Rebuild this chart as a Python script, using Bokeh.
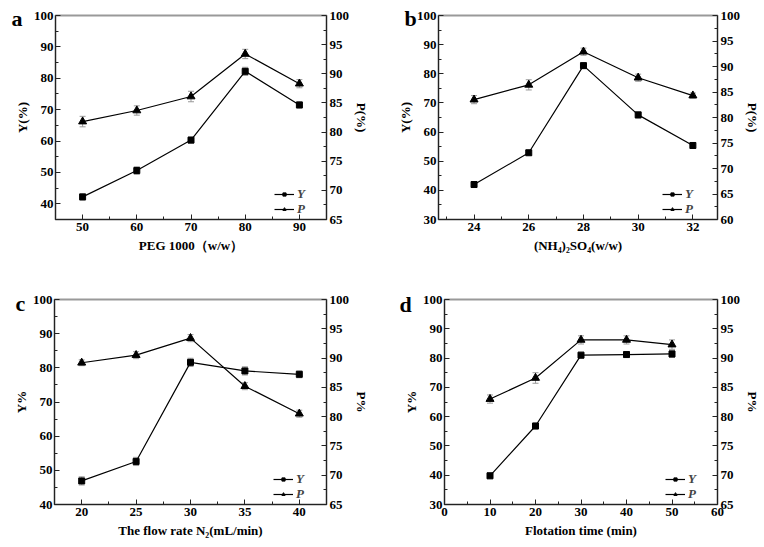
from bokeh.plotting import figure
from bokeh.layouts import column, row
from bokeh.models import (Range1d, LinearAxis, FixedTicker, Whisker, TeeHead,
                          ColumnDataSource, Legend, LegendItem, Label)
from bokeh.embed import file_html
from bokeh.resources import INLINE

FONT = "Liberation Serif"

# ---- data ----
a_x = [50, 60, 70, 80, 90]
a_Y = [42.2, 50.6, 60.3, 82.2, 71.5]
a_Yerr = [1.0, 1.2, 1.0, 1.3, 1.0]
a_P = [81.8, 83.7, 86.1, 93.4, 88.3]
a_Perr = [0.9, 0.8, 0.9, 0.8, 0.7]

b_x = [24, 26, 28, 30, 32]
b_Y = [42.0, 52.9, 82.8, 65.9, 55.4]
b_Yerr = [1.0, 0.8, 1.0, 1.1, 1.0]
b_P = [83.5, 86.4, 92.9, 87.8, 84.3]
b_Perr = [0.8, 1.0, 0.7, 0.7, 0.5]

c_x = [20, 25, 30, 35, 40]
c_Y = [46.9, 52.6, 81.6, 79.1, 78.1]
c_Yerr = [1.2, 1.2, 1.2, 1.2, 1.0]
c_P = [89.2, 90.5, 93.4, 85.2, 80.5]
c_Perr = [0.5, 0.6, 0.6, 0.6, 0.6]

d_x = [10, 20, 30, 40, 50]
d_Y = [39.8, 56.8, 81.0, 81.2, 81.4]
d_Yerr = [1.0, 1.0, 1.0, 1.0, 1.2]
d_P = [83.0, 86.6, 93.1, 93.1, 92.3]
d_Perr = [0.7, 0.9, 0.7, 0.7, 0.8]

a_xticks = [50, 60, 70, 80, 90]
b_xticks = [24, 26, 28, 30, 32]
c_xticks = [20, 25, 30, 35, 40]
d_xticks = [0, 10, 20, 30, 40, 50, 60]


def minors(ticks):
    step = ticks[1] - ticks[0]
    return [t - step / 2 for t in ticks] + [ticks[-1] + step / 2]


def style_axis(ax, size="13px"):
    ax.major_label_text_font = FONT
    ax.major_label_text_font_style = "bold"
    ax.major_label_text_font_size = size
    ax.major_label_text_color = "black"
    ax.axis_label_text_font = FONT
    ax.axis_label_text_font_style = "bold"
    ax.axis_label_text_font_size = "13px"
    ax.axis_label_text_color = "black"
    ax.major_tick_in = 5
    ax.major_tick_out = 0
    ax.minor_tick_in = 3
    ax.minor_tick_out = 0
    ax.axis_line_color = "#222222"
    ax.major_tick_line_color = "#222222"
    ax.minor_tick_line_color = "#222222"
    ax.major_label_standoff = 3
    ax.axis_label_standoff = 4


def make_legend(label, rends, x, y):
    leg = Legend(items=[LegendItem(label=label, renderers=rends)], location=(x, y))
    leg.background_fill_alpha = 0
    leg.border_line_alpha = 0
    leg.label_text_font = FONT
    leg.label_text_font_style = "bold italic"
    leg.label_text_font_size = "13px"
    leg.glyph_width = 20
    leg.glyph_height = 8
    leg.label_height = 8
    leg.label_standoff = 3
    leg.padding = 0
    leg.margin = 0
    return leg


def panel(letter, x, Y, Yerr, P, Perr, xr, yl, yr, xt, ylt, yrt,
          xlabel, ylabel, rlabel, w, h, bl, br, bt, bb, ldx, ldy, legx):
    p = figure(width=w, height=h, x_range=Range1d(*xr), y_range=Range1d(*yl),
               output_backend="svg", toolbar_location=None,
               min_border_left=bl, min_border_right=br,
               min_border_top=bt, min_border_bottom=bb)
    p.extra_y_ranges = {"r": Range1d(*yr)}
    p.grid.visible = False
    p.outline_line_color = "#999999"
    p.outline_line_width = 2
    p.background_fill_color = "white"
    p.border_fill_color = "white"

    p.xaxis.ticker = FixedTicker(ticks=xt, minor_ticks=minors(xt))
    p.yaxis.ticker = FixedTicker(ticks=ylt, minor_ticks=minors(ylt))
    p.xaxis.axis_label = xlabel
    p.yaxis.axis_label = ylabel
    style_axis(p.xaxis[0])
    style_axis(p.yaxis[0])
    p.yaxis.major_label_standoff = 2
    p.yaxis.axis_label_standoff = 1

    rax = LinearAxis(y_range_name="r", ticker=FixedTicker(ticks=yrt, minor_ticks=minors(yrt)),
                     axis_label=rlabel)
    style_axis(rax)
    rax.axis_label_standoff = 2
    rax.major_label_standoff = 3
    p.add_layout(rax, "right")

    sy = ColumnDataSource(dict(x=x, y=Y, lo=[a - b for a, b in zip(Y, Yerr)],
                               hi=[a + b for a, b in zip(Y, Yerr)]))
    sp = ColumnDataSource(dict(x=x, y=P, lo=[a - b for a, b in zip(P, Perr)],
                               hi=[a + b for a, b in zip(P, Perr)]))
    ecol = "#999999"
    wy = Whisker(source=sy, base="x", lower="lo", upper="hi", line_color=ecol, line_width=1,
                 upper_head=TeeHead(size=6, line_color=ecol, line_width=1),
                 lower_head=TeeHead(size=6, line_color=ecol, line_width=1))
    wp = Whisker(source=sp, base="x", lower="lo", upper="hi", line_color=ecol, line_width=1,
                 y_range_name="r",
                 upper_head=TeeHead(size=6, line_color=ecol, line_width=1),
                 lower_head=TeeHead(size=6, line_color=ecol, line_width=1))
    p.add_layout(wy)
    p.add_layout(wp)

    ly = p.line("x", "y", source=sy, line_color="black", line_width=1.2)
    my = p.scatter("x", "y", source=sy, marker="square", size=6, color="black")
    lp = p.line("x", "y", source=sp, line_color="black", line_width=1.2, y_range_name="r")
    mp = p.scatter("x", "y", source=sp, marker="triangle", size=8, color="black", y_range_name="r")

    p.add_layout(make_legend("Y", [ly, my], legx, 17))
    p.add_layout(make_legend("P", [lp, mp], legx, 2))

    # panel letter placed in a side panel so it is not clipped by the frame
    p.add_layout(Label(x=xr[0], y=yl[1], x_offset=ldx, y_offset=ldy, text=letter,
                       text_font=FONT, text_font_style="bold", text_font_size="22px",
                       text_color="black", text_baseline="alphabetic", text_align="left"),
                 "left")
    return p


pa = panel("a", a_x, a_Y, a_Yerr, a_P, a_Perr, (45, 95), (35, 100), (65, 100),
           a_xticks, [40, 50, 60, 70, 80, 90, 100], [65, 70, 75, 80, 85, 90, 95, 100],
           "PEG 1000（w/w）", "Y(%)", "P(%)", 382, 273, 54, 56, 15, 54, -44, -3, 219)
pb = panel("b", b_x, b_Y, b_Yerr, b_P, b_Perr, (22.7, 32.9), (30, 100), (60, 100),
           b_xticks, [30, 40, 50, 60, 70, 80, 90, 100], [60, 65, 70, 75, 80, 85, 90, 95, 100],
           "(NH₄)₂SO₄(w/w)", "Y(%)", "P(%)", 382, 273, 54, 47, 15, 54, -34, -3, 224)
pc = panel("c", c_x, c_Y, c_Yerr, c_P, c_Perr, (17.5, 42.5), (40, 100), (65, 100),
           c_xticks, [40, 50, 60, 70, 80, 90, 100], [65, 70, 75, 80, 85, 90, 95, 100],
           "The flow rate N₂(mL/min)", "Y%", "P%", 382, 274, 54, 56, 26, 43, -39, -4, 219)
pd_ = panel("d", d_x, d_Y, d_Yerr, d_P, d_Perr, (0, 60), (30, 100), (65, 100),
            d_xticks, [30, 40, 50, 60, 70, 80, 90, 100], [65, 70, 75, 80, 85, 90, 95, 100],
            "Flotation time (min)", "Y%", "P%", 382, 274, 62, 47, 26, 43, -45, -5, 221)

layout = column(row(pa, pb), row(pc, pd_))
open("out.html", "w").write(file_html(layout, INLINE))
